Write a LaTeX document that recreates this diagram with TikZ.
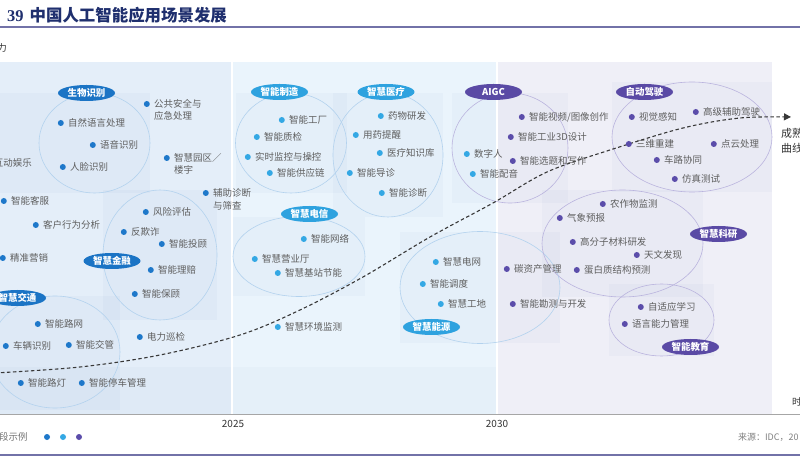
\documentclass[tikz,border=0pt]{standalone}
\usepackage{fontspec}
\setmainfont{Noto Sans CJK SC}
\newfontfamily\titleserif{Liberation Serif}
\usetikzlibrary{shapes.geometric,arrows.meta}
\definecolor{titleblue}{HTML}{1F2F6E}
\definecolor{rulecol}{HTML}{7272A8}
\definecolor{panelA}{HTML}{E4EEF9}
\definecolor{panelB}{HTML}{EAF4FC}
\definecolor{panelC}{HTML}{EFEFF7}
\definecolor{tint}{HTML}{1F4F8F}
\definecolor{cA}{HTML}{1E78CA}
\definecolor{cB}{HTML}{34A8E4}
\definecolor{cC}{HTML}{5B4DAA}
\definecolor{pillA}{HTML}{1B74C5}
\definecolor{pillB}{HTML}{2EA2DF}
\definecolor{pillC}{HTML}{5A4AA5}
\definecolor{ringB}{HTML}{B3D2EE}
\definecolor{ringC}{HTML}{BAB4DE}
\definecolor{txtgray}{HTML}{5E5E5E}
\definecolor{curvecol}{HTML}{383838}
\newcommand\myitemfont{\fontsize{9.5}{11}\selectfont}
\newcommand\mypillfont{\fontsize{9.5}{11}\selectfont\bfseries}
\begin{document}
\begin{tikzpicture}[x=1bp,y=-1bp,
  dotA/.style={circle,fill=cA,inner sep=0pt,minimum size=6bp},
  dotB/.style={circle,fill=cB,inner sep=0pt,minimum size=6bp},
  dotC/.style={circle,fill=cC,inner sep=0pt,minimum size=6bp},
  txt/.style={anchor=west,inner sep=0pt,text=txtgray,font=\myitemfont},
  itemA/.style={txt,label={[dotA,label distance=4bp]west:{}}},
  itemB/.style={txt,label={[dotB,label distance=4bp]west:{}}},
  itemC/.style={txt,label={[dotC,label distance=4bp]west:{}}},
  pill/.style={ellipse,inner sep=0pt,minimum width=57bp,minimum height=16bp,text=white,font=\mypillfont},
  pillAst/.style={pill,fill=pillA},
  pillBst/.style={pill,fill=pillB},
  pillCst/.style={pill,fill=pillC},
  ringBst/.style={ellipse,draw=ringB,line width=0.6bp,inner sep=0pt},
  ringCst/.style={ellipse,draw=ringC,line width=0.6bp,inner sep=0pt},
  subrect/.style={fill=tint,fill opacity=0.028},
  curve/.style={draw=curvecol,line width=1.1bp,dash pattern=on 3.5bp off 2.5bp},
  rulest/.style={draw=rulecol,line width=2bp},
  plain/.style={inner sep=0pt,font=\myitemfont}
]
\useasboundingbox (0,0) rectangle (800,466);
\fill[white] (0,0) rectangle (800,466);

% title and top rule
\node[anchor=west,inner sep=0pt,text=titleblue,font=\fontsize{16.5}{18}\selectfont] (title) at (7,15)
  {{\titleserif\bfseries 39}\hspace{6bp}{\bfseries 中国人工智能应用场景发展}};
\draw[rulest] (0,27.5) -- (800,27.5);
\node[plain,anchor=east,text=black!80] (yaxis) at (7,48) {能力};

% panels
\fill[panelA] (0,62) rectangle (231,414);
\fill[panelB] (233,62) rectangle (496,414);
\fill[panelC] (498,62) rectangle (772,414);
\fill[tint,fill opacity=0.025] (0,367) rectangle (496,414);

% cluster background rectangles
\fill[subrect] (0,93) rectangle (150,193);
\fill[subrect] (103,190) rectangle (217,320);
\fill[subrect] (0,296) rectangle (120,410);
\fill[subrect] (236,93) rectangle (347,193);
\fill[subrect] (333,93) rectangle (443,217);
\fill[subrect] (233,217) rectangle (365,296);
\fill[subrect] (400,232) rectangle (560,343);
\fill[subrect] (452,93) rectangle (568,203);
\fill[subrect] (612,82) rectangle (772,192);
\fill[subrect] (542,190) rectangle (703,297);
\fill[subrect] (609,284) rectangle (714,356);

% separators
\fill[white] (231,62) rectangle (233,414);
\fill[white] (496,62) rectangle (498,414);
\fill[white] (772,62) rectangle (800,414);
\draw[black!35,line width=0.8bp] (0,414.5) -- (800,414.5);

% rings
\node[ringBst,minimum width=111bp,minimum height=100bp] (r1) at (94.5,143) {};
\node[ringBst,minimum width=114bp,minimum height=130bp] (r2) at (160,255) {};
\node[ringBst,minimum width=130bp,minimum height=112bp] (r3) at (55,352) {};
\node[ringBst,minimum width=111bp,minimum height=100bp] (r4) at (291,143) {};
\node[ringBst,minimum width=110bp,minimum height=124bp] (r5) at (388,155) {};
\node[ringBst,minimum width=132bp,minimum height=80bp] (r6) at (299,256.5) {};
\node[ringBst,minimum width=160bp,minimum height=112bp] (r7) at (480,287.5) {};
\node[ringCst,minimum width=116bp,minimum height=110bp] (r8) at (510,148) {};
\node[ringCst,minimum width=160bp,minimum height=110bp] (r9) at (692,137) {};
\node[ringCst,minimum width=161bp,minimum height=107bp] (r10) at (622.5,243.5) {};
\node[ringCst,minimum width=105bp,minimum height=72bp] (r11) at (661.5,320) {};

% maturity curve
\coordinate (cs) at (-5,373);
\coordinate (ce) at (791,117);
\draw[curve,-{Triangle[length=7bp,width=7bp]}] plot[smooth,tension=0.55] coordinates
  {(cs) (80,367) (160,355) (240,335) (300,310) (363,277) (430,237) (493,203) (547,172) (610,150) (683,128) (740,118) (ce)};

% pills
\node[pillAst] (p1) at (86.5,93) {生物识别};
\node[pillAst] (p2) at (112,261) {智慧金融};
\node[pillAst] (p3) at (17.5,298) {智慧交通};
\node[pillBst] (p4) at (279.5,92) {智能制造};
\node[pillBst] (p5) at (386,92) {智慧医疗};
\node[pillBst] (p6) at (309.5,214) {智慧电信};
\node[pillBst] (p7) at (431.5,327) {智慧能源};
\node[pillCst] (p8) at (493.5,92) {AIGC};
\node[pillCst] (p9) at (644.5,92) {自动驾驶};
\node[pillCst] (p10) at (718.5,234) {智慧科研};
\node[pillCst] (p11) at (690.5,347) {智能教育};

% panel 1 items
\node[itemA] (a1) at (68,123) {自然语言处理};
\node[itemA] (a2) at (100,145) {语音识别};
\node[itemA] (a3) at (70,167) {人脸识别};
\node[itemA] (a4) at (154,104) {公共安全与};
\node[txt] (a4b) at (154,116) {应急处理};
\node[itemA] (a5) at (174,158) {智慧园区／};
\node[txt] (a5b) at (174,170) {楼宇};
\node[txt,anchor=east] (a6) at (32,163) {互动娱乐};
\node[itemA] (a7) at (11,201) {智能客服};
\node[itemA] (a8) at (43,225) {客户行为分析};
\node[itemA] (a9) at (213,193) {辅助诊断};
\node[txt] (a9b) at (213,206) {与筛查};
\node[itemA] (a10) at (153,212) {风险评估};
\node[itemA] (a11) at (131,232) {反欺诈};
\node[itemA] (a12) at (169,244) {智能投顾};
\node[itemA] (a13) at (158,270) {智能理赔};
\node[itemA] (a14) at (142,294) {智能保顾};
\node[itemA] (a15) at (10,258) {精准营销};
\node[itemA] (a16) at (45,324) {智能路网};
\node[itemA] (a17) at (13,346) {车辆识别};
\node[itemA] (a18) at (76,345) {智能交管};
\node[itemA] (a19) at (147,337) {电力巡检};
\node[itemA] (a20) at (28,383) {智能路灯};
\node[itemA] (a21) at (89,383) {智能停车管理};

% panel 2 items
\node[itemB] (b1) at (289,120) {智能工厂};
\node[itemB] (b2) at (264,137) {智能质检};
\node[itemB] (b3) at (255,157) {实时监控与操控};
\node[itemB] (b4) at (277,173) {智能供应链};
\node[itemB] (b5) at (388,116) {药物研发};
\node[itemB] (b6) at (363,135) {用药提醒};
\node[itemB] (b7) at (387,153) {医疗知识库};
\node[itemB] (b8) at (357,173) {智能导诊};
\node[itemB] (b9) at (389,193) {智能诊断};
\node[itemB] (b10) at (311,239) {智能网络};
\node[itemB] (b11) at (262,259) {智慧营业厅};
\node[itemB] (b12) at (285,273) {智慧基站节能};
\node[itemB] (b13) at (285,327) {智慧环境监测};
\node[itemB] (b14) at (443,262) {智慧电网};
\node[itemB] (b15) at (430,284) {智能调度};
\node[itemB] (b16) at (448,304) {智慧工地};
\node[itemB] (b17) at (474,154) {数字人};
\node[itemB] (b18) at (480,174) {智能配音};

% panel 3 items
\node[itemC] (c1) at (529,117) {智能视频/图像创作};
\node[itemC] (c2) at (518,137) {智能工业3D设计};
\node[itemC] (c3) at (520,161) {智能选题和写作};
\node[itemC] (c4) at (639,117) {视觉感知};
\node[itemC] (c5) at (703,112) {高级辅助驾驶};
\node[itemC] (c6) at (636,144) {三维重建};
\node[itemC] (c7) at (721,144) {点云处理};
\node[itemC] (c8) at (664,160) {车路协同};
\node[itemC] (c9) at (682,179) {仿真测试};
\node[itemC] (c10) at (610,204) {农作物监测};
\node[itemC] (c11) at (567,218) {气象预报};
\node[itemC] (c12) at (580,242) {高分子材料研发};
\node[itemC] (c13) at (644,255) {天文发现};
\node[itemC] (c14) at (514,269) {碳资产管理};
\node[itemC] (c15) at (584,270) {蛋白质结构预测};
\node[itemC] (c16) at (520,304) {智能勘测与开发};
\node[itemC] (c17) at (648,307) {自适应学习};
\node[itemC] (c18) at (632,324) {语言能力管理};

% right labels
\node[plain,anchor=west,text=black!80,font=\fontsize{11}{13}\selectfont] (m1) at (781,133) {成熟};
\node[plain,anchor=west,text=black!80,font=\fontsize{11}{13}\selectfont] (m2) at (781,148) {曲线};
\node[plain,anchor=west,text=black!80] (tm) at (792,402) {时间};

% axis labels
\node[plain,text=black!80,font=\fontsize{10}{12}\selectfont] (y25) at (233,424) {2025};
\node[plain,text=black!80,font=\fontsize{10}{12}\selectfont] (y30) at (497,424) {2030};

% legend
\node[plain,anchor=west,text=black!55] (lg) at (-1,437) {段示例};
\node[dotA] (lgA) at (47,437) {};
\node[dotB] (lgB) at (63,437) {};
\node[dotC] (lgC) at (79,437) {};
\node[plain,anchor=west,text=black!50,font=\fontsize{9}{11}\selectfont] (src) at (738,437) {来源：IDC，20};

\draw[rulest,line width=2.5bp] (0,455) -- (800,455);
\end{tikzpicture}
\end{document}
